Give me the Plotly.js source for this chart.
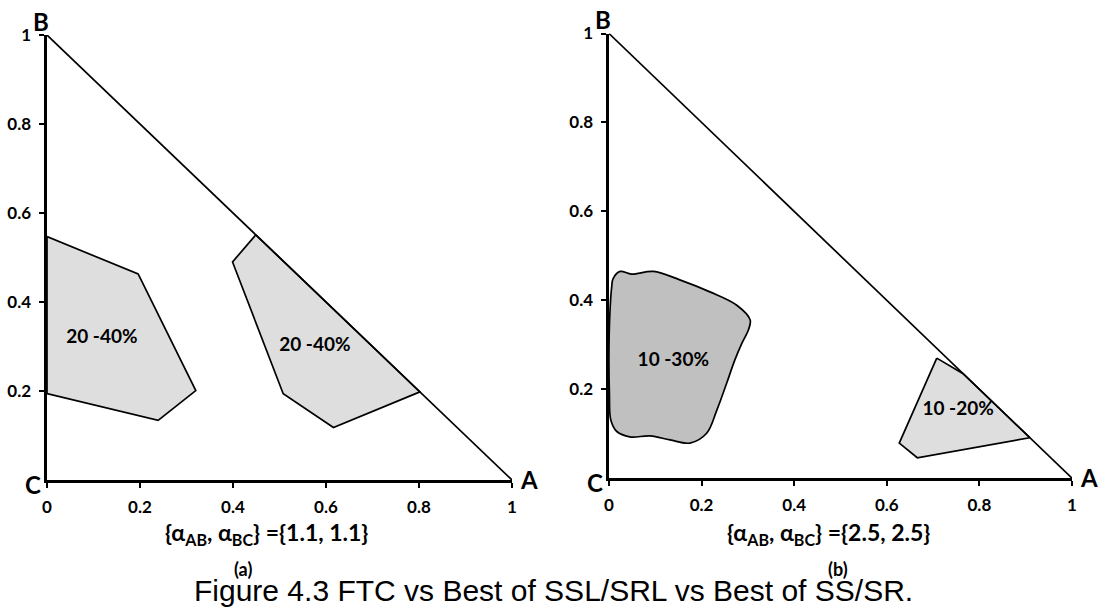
<!DOCTYPE html>
<html>
<head>
<meta charset="utf-8">
<script src="https://cdn.plot.ly/plotly-3.0.1.min.js"></script>
<style>html,body{margin:0;padding:0;background:#fff;}#chart{width:1098px;height:608px;}</style>
</head>
<body>
<div id="chart"></div>
<script>
// Tick values / labels
const xTickVals = [0, 0.2, 0.4, 0.6, 0.8, 1];
const xTickText = ['0', '0.2', '0.4', '0.6', '0.8', '1'];
const yTickVals = [0.2, 0.4, 0.6, 0.8, 1];
const yTickText = ['0.2', '0.4', '0.6', '0.8', '1'];

// Triangle hypotenuse (B -> A)
const hypX = [0, 1];
const hypY = [1, 0];

// Panel (a) region 1: 20-40%
const a1X = [0, 0.196, 0.320, 0.239, 0, 0];
const a1Y = [0.547, 0.463, 0.201, 0.134, 0.194, 0.547];
// Panel (a) region 2: 20-40%
const a2X = [0.449, 0.399, 0.508, 0.616, 0.802, 0.449];
const a2Y = [0.551, 0.490, 0.194, 0.118, 0.198, 0.551];

// Panel (b) region 1: 10-30% (smooth blob)
const b1X = [0.009, 0.024, 0.049, 0.096, 0.153, 0.218, 0.276, 0.305, 0.301, 0.287, 0.272, 0.254, 0.233, 0.211, 0.175, 0.132, 0.089, 0.045, 0.017, 0.004, 0.001, 0.000, 0.002, 0.006, 0.009];
const b1Y = [0.449, 0.465, 0.459, 0.465, 0.446, 0.419, 0.389, 0.356, 0.333, 0.303, 0.266, 0.213, 0.153, 0.101, 0.079, 0.086, 0.095, 0.093, 0.105, 0.131, 0.191, 0.281, 0.371, 0.431, 0.449];
// Panel (b) region 2: 10-20%
const b2X = [0.708, 0.765, 0.909, 0.666, 0.627, 0.708];
const b2Y = [0.270, 0.235, 0.091, 0.046, 0.079, 0.270];

// Region labels
const labA = ['<b>20 -40%</b>', '<b>20 -40%</b>'];
const labAX = [0.118, 0.576];
const labAY = [0.319, 0.300];
const labB = ['<b>10 -30%</b>', '<b>10 -20%</b>'];
const labBX = [0.139, 0.754];
const labBY = [0.262, 0.153];

const axTitleA = '<b>{α<sub>AB</sub>, α<sub>BC</sub>} ={1.1, 1.1}</b>';
const axTitleB = '<b>{α<sub>AB</sub>, α<sub>BC</sub>} ={2.5, 2.5}</b>';
const caption = 'Figure 4.3 FTC vs Best of SSL/SRL vs Best of SS/SR.';

const LIGHT = '#dedede';
const DARK = '#c0c0c0';
const FONT = 'Lato';

const traces = [
  {x: a1X, y: a1Y, xaxis: 'x', yaxis: 'y', mode: 'lines', fill: 'toself', fillcolor: LIGHT, line: {color: '#000', width: 1.7}, hoverinfo: 'skip'},
  {x: a2X, y: a2Y, xaxis: 'x', yaxis: 'y', mode: 'lines', fill: 'toself', fillcolor: LIGHT, line: {color: '#000', width: 1.7}, hoverinfo: 'skip'},
  {x: hypX, y: hypY, xaxis: 'x', yaxis: 'y', mode: 'lines', line: {color: '#000', width: 1.7}, hoverinfo: 'skip'},
  {x: b1X, y: b1Y, xaxis: 'x2', yaxis: 'y2', mode: 'lines', fill: 'toself', fillcolor: DARK, line: {color: '#000', width: 1.7, shape: 'spline', smoothing: 1}, hoverinfo: 'skip'},
  {x: b2X, y: b2Y, xaxis: 'x2', yaxis: 'y2', mode: 'lines', fill: 'toself', fillcolor: LIGHT, line: {color: '#000', width: 1.7}, hoverinfo: 'skip'},
  {x: hypX, y: hypY, xaxis: 'x2', yaxis: 'y2', mode: 'lines', line: {color: '#000', width: 1.7}, hoverinfo: 'skip'},
  {x: labAX, y: labAY, text: labA, xaxis: 'x', yaxis: 'y', mode: 'text', textfont: {family: FONT, size: 19, color: '#000'}, hoverinfo: 'skip'},
  {x: labBX, y: labBY, text: labB, xaxis: 'x2', yaxis: 'y2', mode: 'text', textfont: {family: FONT, size: 19, color: '#000'}, hoverinfo: 'skip'}
];

const bold = a => a.map(s => '<b>' + s + '</b>');

function xax(domain, anchor) {
  return {domain: domain, anchor: anchor, range: [0, 1], showgrid: false, zeroline: false,
    showline: true, linecolor: '#000', linewidth: 2.5, ticks: 'outside', ticklen: 5, tickwidth: 2, tickcolor: '#000',
    tickvals: xTickVals, ticktext: bold(xTickText), tickfont: {family: FONT, size: 17, color: '#000'},
    ticklabelstandoff: 5, fixedrange: true};
}
function yax(domain, anchor) {
  return {domain: domain, anchor: anchor, range: [0, 1], showgrid: false, zeroline: false,
    showline: true, linecolor: '#000', linewidth: 2.5, ticks: 'outside', ticklen: 5, tickwidth: 2, tickcolor: '#000',
    tickvals: yTickVals, ticktext: bold(yTickText), tickfont: {family: FONT, size: 17, color: '#000'},
    ticklabelstandoff: 5, fixedrange: true};
}

const corner = (t, xr, yr, x, y, dx, dy) => ({text: '<b>' + t + '</b>', xref: xr, yref: yr, x: x, y: y, xshift: dx, yshift: dy,
  xanchor: 'center', yanchor: 'middle', showarrow: false, font: {family: FONT, size: 24, color: '#000'}});
const note = (t, xp, yp, size, fam) => ({text: t, xref: 'paper', yref: 'paper', x: xp / 1098, y: 1 - yp / 608,
  xanchor: 'center', yanchor: 'middle', showarrow: false, font: {family: fam || FONT, size: size, color: '#000'}});

const layout = {
  width: 1098, height: 608,
  margin: {l: 0, r: 0, t: 0, b: 0},
  paper_bgcolor: '#fff', plot_bgcolor: '#fff',
  showlegend: false,
  xaxis: xax([0.0428, 0.4663], 'y'),
  yaxis: yax([0.2105, 0.9424], 'x'),
  xaxis2: xax([0.5546, 0.9763], 'y2'),
  yaxis2: yax([0.2135, 0.9449], 'x2'),
  annotations: [
    corner('B', 'x', 'y', 0, 1, -6, 14),
    corner('C', 'x', 'y', 0, 0, -14, -4),
    corner('A', 'x', 'y', 1, 0, 17, 1),
    corner('B', 'x2', 'y2', 0, 1, -6, 14),
    corner('C', 'x2', 'y2', 0, 0, -14, -4),
    corner('A', 'x2', 'y2', 1, 0, 17, 1),
    note(axTitleA, 266, 533, 23),
    note(axTitleB, 828, 533, 23),
    note('<b>(a)</b>', 243, 569, 18),
    note('<b>(b)</b>', 838, 569, 18),
    note(caption, 553, 590, 30, '"Liberation Sans", Arial, sans-serif')
  ]
};

Plotly.newPlot('chart', traces, layout, {displayModeBar: false, staticPlot: true});
</script>
</body>
</html>
